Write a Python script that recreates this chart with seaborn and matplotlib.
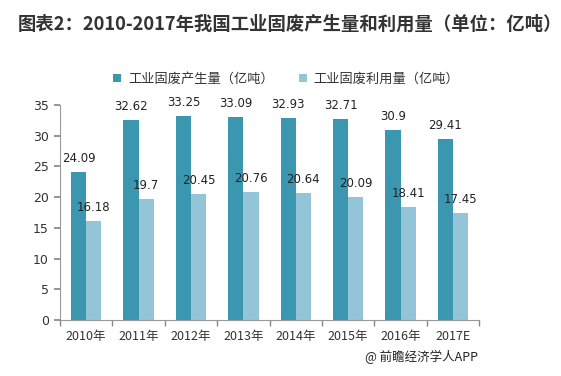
import matplotlib
matplotlib.use("Agg")
import matplotlib.pyplot as plt
import seaborn as sns
import pandas as pd

years = ["2010年", "2011年", "2012年", "2013年", "2014年", "2015年", "2016年", "2017E"]
produced = [24.09, 32.62, 33.25, 33.09, 32.93, 32.71, 30.9, 29.41]
utilized = [16.18, 19.7, 20.45, 20.76, 20.64, 20.09, 18.41, 17.45]
series_names = ["工业固废产生量（亿吨）", "工业固废利用量（亿吨）"]
y_ticks = [0, 5, 10, 15, 20, 25, 30, 35]

sns.set_theme(style="white")
plt.rcParams["font.family"] = ["Noto Sans CJK SC", "DejaVu Sans"]

df = pd.DataFrame({
    "year": years * 2,
    "value": produced + utilized,
    "series": [series_names[0]] * len(years) + [series_names[1]] * len(years),
})

dark = "#3B96AF"
light = "#93C4D7"

fig = plt.figure(figsize=(5.61, 3.76), dpi=100)
ax = fig.add_axes([0.107, 0.149, 0.747, 0.572])

sns.barplot(data=df, x="year", y="value", hue="series", palette=[dark, light],
            width=0.58, ax=ax, legend=True, saturation=1, linewidth=0, edgecolor="none")

for cont in ax.containers:
    labels = [f"{v:g}" for v in cont.datavalues]
    ax.bar_label(cont, labels=labels, padding=5, fontsize=8.5, color="#222222",
                 family=["DejaVu Sans"])

ax.set_ylim(0, 35)
ax.set_yticks(y_ticks)
ax.set_xlim(-0.5, len(years) - 0.5)
ax.set_xlabel("")
ax.set_ylabel("")
ax.tick_params(axis="y", labelsize=9, colors="#333333", length=4, left=True, direction="out", pad=4)
ax.tick_params(axis="x", labelsize=9, colors="#333333", length=0, pad=7)
for lab in ax.get_yticklabels():
    lab.set_family(["DejaVu Sans"])
ax.set_xticks(range(len(years)))
# category boundary ticks
ax.set_xticks([i - 0.5 for i in range(len(years) + 1)], minor=True)
ax.tick_params(axis="x", which="minor", length=4, color="#888888", bottom=True, direction="out")
ax.tick_params(axis="y", color="#888888")

for s in ["top", "right"]:
    ax.spines[s].set_visible(False)
for s in ["left", "bottom"]:
    ax.spines[s].set_color("#999999")
    ax.spines[s].set_linewidth(0.8)

leg = ax.legend(loc="lower left", bbox_to_anchor=(0.115, 1.065), ncol=2, frameon=False,
                fontsize=9.5, handlelength=0.6, handleheight=0.6, handletextpad=0.5,
                columnspacing=1.9, borderaxespad=0)
for t in leg.get_texts():
    t.set_color("#333333")

fig.text(0.032, 0.935, "图表2：2010-2017年我国工业固废产生量和利用量（单位：亿吨）",
         fontsize=13.2, fontweight="bold", color="#333333", ha="left", va="center")
fig.text(0.852, 0.05, "@ 前瞻经济学人APP", fontsize=9, color="#222222", ha="right", va="center")

fig.savefig("out.png", dpi=100)
